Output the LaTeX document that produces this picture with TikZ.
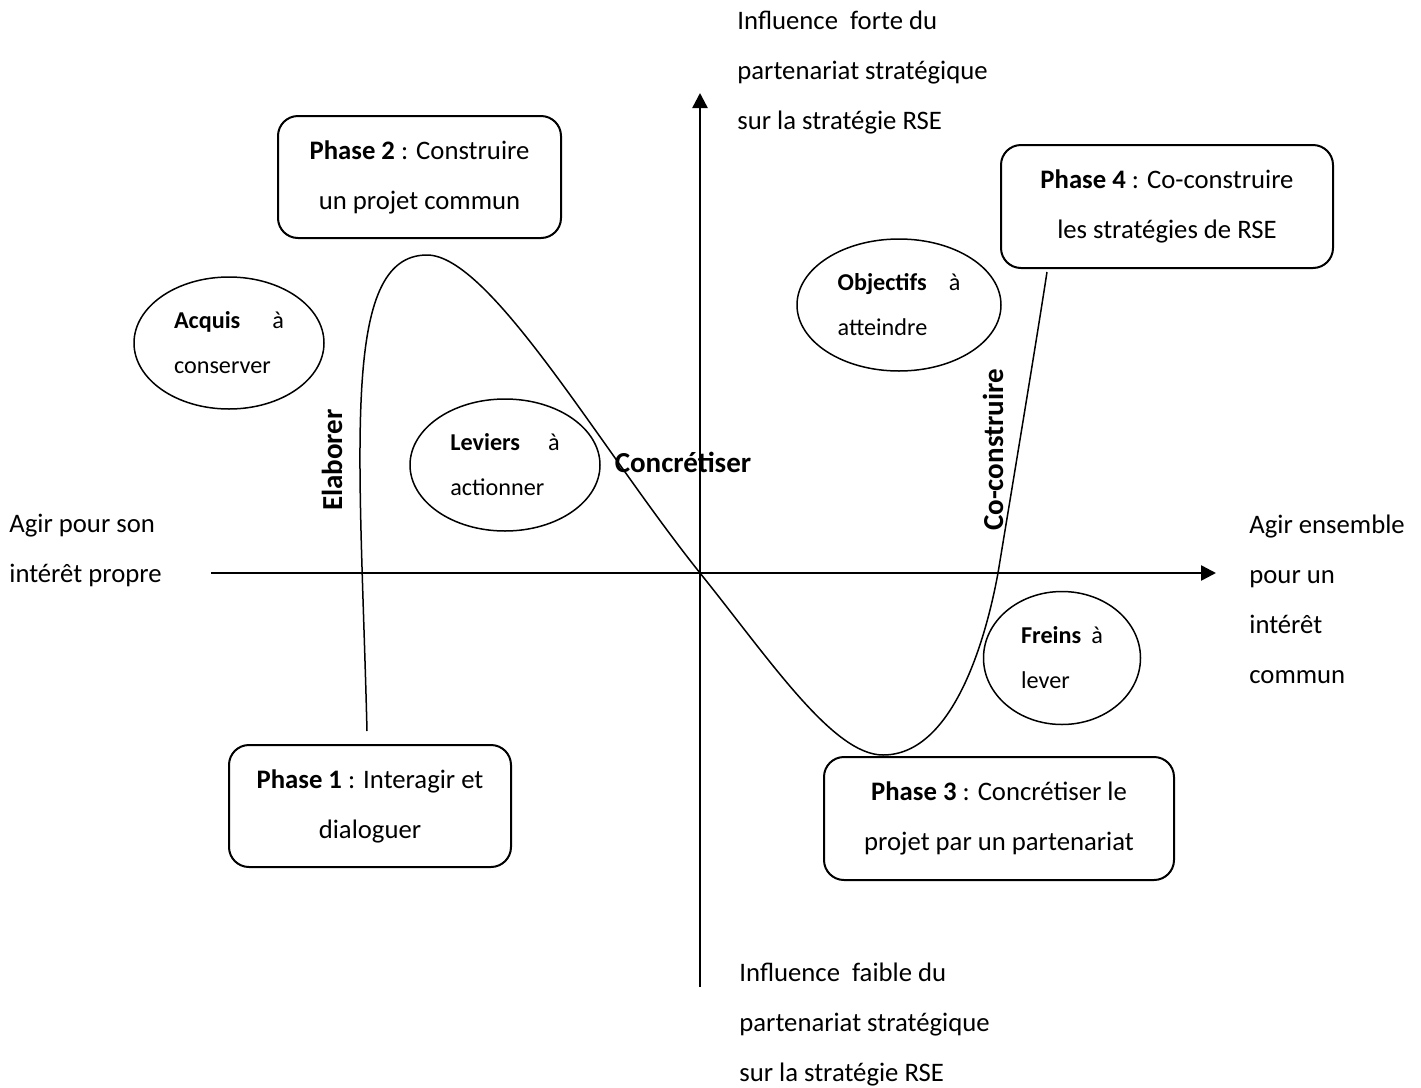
\documentclass[tikz,border=0pt]{standalone}
\usepackage{fontspec}
\setmainfont{Carlito}
\usetikzlibrary{shapes.geometric, arrows.meta}

\begin{document}
\begin{tikzpicture}[
    x=0.5pt, y=-0.5pt,
    phasebox/.style={draw, rounded corners=10pt, line width=1pt, align=center, inner sep=0pt, font=\fontsize{13.35}{25}\selectfont},
    bulle/.style={draw, ellipse, line width=0.75pt, align=left, inner sep=0pt, font=\fontsize{12.1}{22.5}\selectfont},
    axetxt/.style={anchor=west, align=left, inner sep=0pt, font=\fontsize{13.35}{25}\selectfont},
    verbe/.style={inner sep=0pt, font=\fontsize{14.5}{17}\selectfont\bfseries},
    axe/.style={line width=1.25pt, -{Triangle[length=7.5pt, width=7.5pt]}},
    courbe/.style={line width=0.75pt},
]
    \useasboundingbox (0,0) rectangle (1421,1088);

    \coordinate (xg) at (211,573);
    \coordinate (xd) at (1216,573);
    \coordinate (yb) at (700,987);
    \coordinate (yh) at (700,93);
    \draw[axe] (xg) -- (xd);
    \draw[axe] (yb) -- (yh);

    \node[axetxt] (haut) at (737,73) {Influence\ \ forte du\\partenariat stratégique\\sur la stratégie RSE};
    \node[axetxt] (bas) at (739,1025) {Influence\ \ faible du\\partenariat stratégique\\sur la stratégie RSE};
    \node[axetxt] (gauche) at (9,550) {Agir pour son\\intérêt propre};
    \node[axetxt] (droite) at (1249,599) {Agir ensemble\\pour un\\intérêt\\commun};

    \node[phasebox, minimum width=141.5pt, minimum height=61pt] (ph2) at (419.5,177) {\textbf{Phase 2} : Construire\\un projet commun};
    \node[phasebox, minimum width=166pt, minimum height=61.5pt] (ph4) at (1167,206.5) {\textbf{Phase 4} : Co-construire\\les stratégies de RSE};
    \node[phasebox, minimum width=141pt, minimum height=61pt] (ph1) at (370,806) {\textbf{Phase 1} : Interagir et\\dialoguer};
    \node[phasebox, minimum width=175pt, minimum height=61.5pt] (ph3) at (999,818.5) {\textbf{Phase 3} : Concrétiser le\\projet par un partenariat};

    \node[bulle, minimum width=95pt, minimum height=66pt] (acquis) at (229,343) {\textbf{Acquis}\hspace{16pt}à\\conserver};
    \node[bulle, minimum width=95pt, minimum height=66pt] (leviers) at (505,465) {\textbf{Leviers}\hspace{14pt}à\\actionner};
    \node[bulle, minimum width=102pt, minimum height=66pt] (objectifs) at (899,305) {\textbf{Objectifs}\hspace{11pt}à\\atteindre};
    \node[bulle, minimum width=78.5pt, minimum height=66.5pt] (freins) at (1062,658) {\textbf{Freins}\hspace{5pt}à\\lever};

    \coordinate (depart) at (367,731);
    \coordinate (sommet) at (427,255);
    \coordinate (o) at (700,573);
    \coordinate (creux) at (883,755);
    \coordinate (coupe) at (998,573);
    \coordinate (arrivee) at (1047,272);
    \draw[courbe] (depart) .. controls (360,450) and (340,255) .. (sommet)
        .. controls (490,255) and (600,448) .. (o)
        .. controls (770,660) and (833,755) .. (creux)
        .. controls (955,755) and (987,633) .. (coupe)
        .. controls (1010,500) and (1035,350) .. (arrivee);

    \node[verbe, rotate=90] (elab) at (332,460) {Elaborer};
    \node[verbe] (concr) at (683,462) {Concrétiser};
    \node[verbe, rotate=90] (cocon) at (993,450) {Co-construire};
\end{tikzpicture}
\end{document}
